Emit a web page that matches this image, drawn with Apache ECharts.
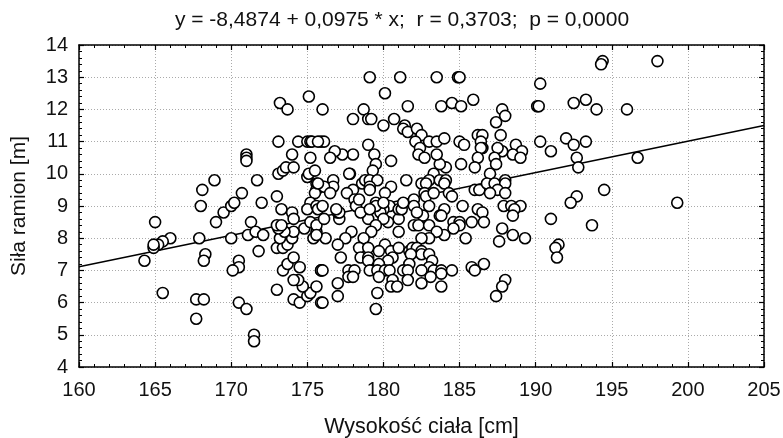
<!DOCTYPE html>
<html><head><meta charset="utf-8">
<script src="https://cdn.jsdelivr.net/npm/echarts@6/dist/echarts.min.js"></script>
<style>html,body{margin:0;padding:0;background:#fff}#c{width:783px;height:438px}</style>
</head><body><div id="c"></div>
<script>
const titleText = "y = -8,4874 + 0,0975 * x;  r = 0,3703;  p = 0,0000";
const xName = "Wysokość ciała [cm]";
const yName = "Siła ramion [m]";
const fitLine = [[160,7.11],[205,11.5]];
const leftPoints = [[168.1,9.5],[168.9,9.8],[168,9],[169.5,8.8],[170,9],[170.2,9.1],[170.7,9.4],[171,10.6],[171,10.5],[171,10.4],[171.7,9.8],[172,9.1],[173,9.3],[173.1,10],[173.4,10.1],[173.6,10.2],[174.1,10.2],[174,10.6],[173.1,11],[173.2,12.2],[173.7,12],[175.1,12.4],[174.4,11],[175,11],[175.2,11],[175.9,11],[175.2,10.5],[175,9.9],[175.1,10],[175.5,10.1],[175.6,9.7],[175.6,9.5],[175.5,9.4],[175.2,9.1],[175,8.9],[175.6,9],[173.3,8.9],[174,8.8],[176,12],
[169,8.5],[171.3,8.5],[165,8.5],[166,8],[165.5,7.9],[165.2,7.8],[164.9,7.7],[164.9,7.8],[164.3,7.3],[167.9,8],[170,8],[171.1,8.1],[171.6,8.2],[172.1,8.1],[171.8,7.6],[168.3,7.5],[168.2,7.3],[170.5,7.3],[170.5,7.1],[170.1,7],[165.5,6.3],[167.7,6.1],[168.2,6.1],[167.7,5.5],[170.5,6],[171,5.8],[171.5,5],[171.5,4.8],[173,6.4],[174.1,6.1],[174.5,6],[175,6.2],[175.2,6.3],[175.6,6.5],[174.7,6.5],[174.4,6.7],[174.1,6.7],[173.4,7],[173.7,7.2],[174.1,7.4],[174.5,7.1],[175.9,7],[173,7.7],[173.4,7.7],[173.7,7.8],[173.2,8],[174,8],[174.8,8.3],[174.1,8.2],[173.5,8.2],[173.1,8.3],[173,8.4],[173.3,8.4],[174.1,8.6],[175.2,8.5],[175.6,8.2],[175.4,8],[175.6,8.4],[175.9,6]];
const topPoints = [[179.1,13],[181.1,13],[183.5,13],[184.9,13],[185,13],[190.3,12.8],[180.1,12.5],[178.7,12],[181.6,12.1],[183.8,12.1],[184.5,12.2],[185.1,12.1],[185.9,12.3],[190.1,12.1],[190.2,12.1],[187.8,12],[188,11.8],[187.4,11.6],[178,11.7],[179,11.7],[179.2,11.7],[180.7,11.7],[180,11.5],[181.4,11.5],[181.3,11.4],[181.6,11.3],[182.2,11.4],[182.5,11.2],[182.1,11],[183,11],[183.5,11],[184,11.1],[185,11],[185.3,10.9],[186.2,11.2],[186.5,11.2],[186.4,11],[186.5,10.8],[186.4,10.8],[187.7,11.2],[188.7,10.9],[190.3,11],[189.1,10.7],[188.5,10.6],[189,10.5],[187.8,10.7],[187.5,10.8],[187.3,10.5],[187.4,10.3],[186.2,10.5],[186,10.2],[185.1,10.3],[187,10],[184.1,10.2],[183.7,10.3],[183.5,10.6],[182.4,10.8],[182.3,10.6],[182.7,10.5],[179,10.9],[179.4,10.6],[178,10.6],[177.3,10.6],[176.8,10.7],[176.5,10.5],[176.1,11],[175.3,11],[175.7,11],[180.5,10.4],[179.5,10.3],[179.3,10.1],[177.8,10],[177.75,10],[181.5,9.8],[183.3,10],[183,9.8],[182.5,9.7],[182.8,9.7],[183.7,9.8],[184.1,9.8],[184,9.7],[180.5,9.6],[176.7,9.8],[176.7,9.6],[176.1,9.6],[175.7,9.7],[176.5,9.4],[178.6,9.7],[178.8,9.8],[179.1,9.8],[179.6,9.8],[179.1,9.6],[179.1,9.5],[178,9.5],[177.6,9.4],[180.1,9.4],[178.1,9.2],[178.2,9],[179.5,9.1],[180.4,9],[182,9.2],[182.7,9.4],[182.8,9.3],[183.3,9.4],[184.3,9.4],[184.5,9.3],[182,9],[183,9],[184,8.9],[185.2,9],[186,9.5],[186.3,9.5],[186.8,9.7],[187.3,9.7],[188,9.8],[188,9.7],[187.5,9.5],[187,9.4],[188,9.4],[186.2,8.9],[186.5,8.8],[187.9,9],[188.4,9],[189,9],[188.6,8.9]];
const lowPoints = [[188.5,8.7],[185.8,8.5],[186.6,8.5],[187.8,8.3],[188.5,8.1],[189.3,8],[187.6,7.9],[185.4,8],[184.6,8.5],[185,8.5],[185,8.4],[184.6,8.3],[184,8.1],[183.7,8.7],[183.8,8.7],[182.6,8.7],[182,8.4],[182.3,8.4],[183,8.4],[183.5,8.2],[183,8],[182.5,8],[181,8.2],[181,8.6],[182.2,8.8],[181,8.9],[181.2,8.9],[180,8.9],[179.8,8.8],[179.5,9],[180.3,8.5],[180,8.6],[179,8.6],[179.5,8.4],[179.2,8.2],[178.7,8],[177.9,8.2],[177.5,8],[177,7.8],[176.2,8],[175.6,8.1],[176.1,8.6],[177.1,8.6],[177,8.8],[175.7,8.9],[176,9],[178.5,8.8],[179.1,8.9],[177.2,7.4],[178.4,7.7],[179,7.7],[178.5,7.4],[179,7.4],[179,7.3],[180.1,7.8],[179.7,7.6],[180.5,7.6],[180.6,7.4],[181,7.7],[180.3,7.3],[179.7,7.2],[181.7,7.6],[181.9,7.7],[182.2,7.7],[182.5,7.6],[182.5,7.5],[183,7.5],[181.8,7.5],[181.7,7.2],[183.2,7.3],[183,7.1],[175.9,7],[176,7],[177.7,7],[178.1,7],[177.7,6.8],[178,6.8],[179.1,7],[179.6,7],[180.1,7],[180.4,7],[179.7,6.8],[181.3,7],[181.6,7],[182.5,7],[183.3,7],[183.8,7],[184.5,7],[183.8,6.9],[183.1,6.8],[180.6,6.7],[181.6,6.7],[180.5,6.5],[180.9,6.5],[182.5,6.6],[183.8,6.5],[179.6,6.3],[179.5,5.8],[177,6.6],[177,6.2],[176,6],[185.8,7.1],[186,7],[186.6,7.2],[188,6.7],[187.8,6.5],[187.4,6.2],[177.1,8.8],[176.9,8.9],[178.4,9.2],[180,9.1],[181.3,9.1]];
const rightPoints = [[194.4,13.5],[194.3,13.4],[198,13.5],[193.3,12.3],[192.5,12.2],[194,12],[196,12],[192,11.1],[192.5,10.9],[193.3,11],[191,10.7],[192.7,10.5],[192.8,10.2],[196.7,10.5],[194.5,9.5],[192.7,9.3],[192.3,9.1],[199.3,9.1],[191,8.6],[193.7,8.4],[191.5,7.8],[191.3,7.7],[191.4,7.4]];
const points = leftPoints.concat(topPoints, lowPoints, rightPoints);
const yTicks = {min:4,max:14,major:1,minorSplit:5};
const xTicks = {min:160,max:205,major:5,minorSplit:5};
const font = "Liberation Sans, Arial, sans-serif";
const black = "#000";
const fs = 20;
function xAxisCfg(pos, main){return {type:'value',position:pos,min:xTicks.min,max:xTicks.max,interval:xTicks.major,
  axisLine:{show:true,onZero:false,lineStyle:{color:black,width:1.5}},
  axisTick:{show:true,inside:true,length:5,lineStyle:{color:black,width:1.2}},
  minorTick:{show:true,splitNumber:xTicks.minorSplit,length:3,lineStyle:{color:black,width:1}},
  axisLabel:{show:main,color:'#111',fontFamily:font,fontSize:fs,margin:13,hideOverlap:false,showMinLabel:true,showMaxLabel:true},
  splitLine:{show:main,lineStyle:{color:'#aaa',type:[1,2],width:1}},
  name:main?xName:'',nameLocation:'middle',nameGap:49,nameTextStyle:{color:'#111',fontFamily:font,fontSize:21.5}};}
function yAxisCfg(pos, main){return {type:'value',position:pos,min:yTicks.min,max:yTicks.max,interval:yTicks.major,
  axisLine:{show:true,onZero:false,lineStyle:{color:black,width:1.5}},
  axisTick:{show:true,inside:true,length:5,lineStyle:{color:black,width:1.2}},
  minorTick:{show:true,splitNumber:yTicks.minorSplit,length:3,lineStyle:{color:black,width:1}},
  axisLabel:{show:main,color:'#111',fontFamily:font,fontSize:fs,margin:11,showMinLabel:true,showMaxLabel:true},
  splitLine:{show:main,lineStyle:{color:'#aaa',type:[1,2],width:1}},
  name:main?yName:'',nameLocation:'middle',nameGap:49,nameTextStyle:{color:'#111',fontFamily:font,fontSize:21}};}
const chart = echarts.init(document.getElementById('c'),null,{renderer:'canvas'});
chart.setOption({
  animation:false,backgroundColor:'#fff',
  title:{text:titleText,left:397,textAlign:'center',top:5,textStyle:{color:'#111',fontFamily:font,fontSize:21,fontWeight:'normal'}},
  grid:{left:79,right:19,top:45,bottom:71,outerBoundsMode:'none'},
  xAxis:[xAxisCfg('bottom',true),xAxisCfg('top',false)],
  yAxis:[yAxisCfg('left',true),yAxisCfg('right',false)],
  series:[
   {type:'scatter',data:points,symbol:'circle',symbolSize:11,z:3,silent:true,
    itemStyle:{color:'#fff',borderColor:'#000',borderWidth:1.6,opacity:1}},
   {type:'line',data:fitLine,showSymbol:false,symbol:'none',z:2,lineStyle:{color:'#000',width:1.5},silent:true}
  ]
});
</script></body></html>
